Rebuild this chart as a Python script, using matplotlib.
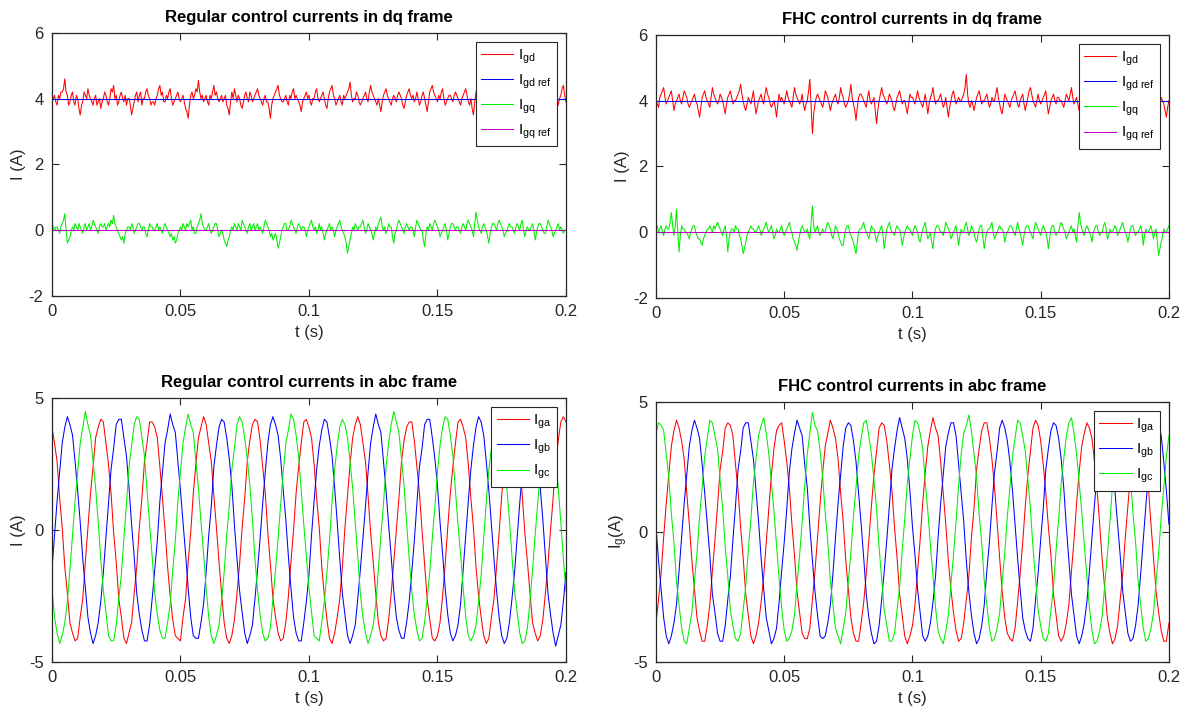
import matplotlib
matplotlib.use('agg')
import matplotlib.pyplot as plt
import numpy as np

# ---- dq frame, regular control (0.5 ms samples) ----
reg_igd = [
    3.9, 4.0, 4.1, 3.9, 3.8, 4.1, 4.0, 4.2, 4.2, 4.3, 4.6, 4.2, 4.1, 3.8, 3.9, 4.1, 4.2, 3.9, 3.8, 4.1,
    4.0, 3.7, 3.5, 3.8, 3.9, 4.2, 4.1, 4.0, 4.3, 4.1, 4.0, 3.9, 3.8, 4.0, 4.1, 3.8, 3.9, 4.0, 3.7, 3.9,
    4.0, 4.2, 4.1, 3.9, 3.8, 4.0, 4.3, 4.2, 4.4, 4.0, 4.1, 3.8, 3.9, 4.1, 4.2, 4.0, 3.9, 4.1, 3.8, 4.0,
    4.0, 3.8, 3.5, 3.7, 3.9, 4.1, 4.2, 3.9, 4.1, 4.2, 3.8, 4.0, 4.0, 4.2, 4.3, 4.1, 4.0, 3.8, 3.9, 3.9,
    3.8, 4.0, 4.1, 4.3, 4.4, 4.1, 4.2, 3.9, 3.9, 4.1, 4.0, 4.2, 4.3, 4.0, 3.8, 3.9, 4.0, 4.1, 4.2, 4.0,
    3.9, 4.0, 4.1, 3.9, 3.7, 3.6, 3.4, 3.8, 4.1, 4.2, 4.0, 4.1, 4.3, 4.2, 4.55, 4.2, 4.0, 4.1, 3.9, 4.0,
    4.1, 3.9, 3.8, 4.1, 4.0, 4.2, 4.4, 4.1, 4.2, 4.0, 3.9, 4.0, 4.1, 3.9, 4.0, 4.1, 3.8, 3.7, 3.5, 3.9,
    4.2, 4.0, 4.3, 4.1, 3.9, 4.1, 4.0, 3.8, 3.7, 3.9, 4.1, 4.2, 4.0, 3.9, 4.2, 4.1, 3.9, 4.0, 4.1, 4.2,
    4.3, 4.1, 4.0, 3.9, 3.8, 4.0, 4.1, 3.9, 3.9, 3.7, 3.4, 3.8, 4.0, 4.1, 4.2, 4.3, 4.4, 4.1, 4.0, 3.9,
    3.9, 4.0, 4.1, 3.9, 3.8, 4.1, 4.0, 4.2, 4.3, 4.0, 4.1, 4.0, 3.9, 3.8, 3.6, 3.9, 4.0, 4.1, 4.2, 4.0,
    4.1, 3.9, 3.8, 4.0, 4.0, 4.2, 4.3, 4.0, 3.9, 4.0, 4.1, 4.2, 4.0, 3.8, 3.7, 4.0, 4.2, 4.3, 4.4, 4.1,
    4.0, 3.8, 3.9, 4.0, 4.1, 3.9, 3.8, 4.1, 4.0, 4.1, 4.2, 4.3, 4.5, 4.1, 3.9, 4.0, 4.0, 4.2, 4.1, 3.9,
    3.8, 3.9, 4.0, 4.1, 4.2, 4.0, 3.9, 4.2, 4.4, 4.2, 4.1, 4.0, 3.9, 3.8, 4.0, 3.8, 3.6, 3.9, 4.1, 4.2,
    4.3, 4.1, 4.0, 3.9, 3.8, 4.0, 4.1, 4.0, 3.9, 4.1, 4.2, 4.1, 4.0, 3.8, 3.7, 3.9, 4.1, 4.2, 4.3, 4.1,
    4.0, 4.1, 3.9, 4.0, 4.2, 4.0, 3.8, 3.9, 4.1, 4.2, 4.0, 3.8, 3.6, 3.9, 4.2, 4.3, 4.4, 4.2, 4.1, 4.0,
    3.9, 4.1, 4.0, 4.2, 4.3, 4.0, 3.8, 3.9, 4.0, 4.1, 4.1, 4.0, 3.9, 4.1, 4.2, 4.1, 4.0, 3.9, 3.8, 4.0,
    4.1, 4.2, 4.3, 4.1, 3.9, 3.8, 4.0, 3.7, 3.5, 3.9, 4.2, 4.1, 4.0, 4.2, 4.5, 4.2, 4.1, 4.0, 3.9, 4.1,
    4.0, 4.1, 4.2, 4.0, 3.8, 3.9, 4.1, 4.2, 4.0, 3.9, 3.9, 4.1, 4.3, 4.1, 4.0, 3.9, 3.8, 4.0, 4.1, 4.2,
    4.2, 4.0, 3.9, 4.1, 4.0, 4.2, 4.4, 4.2, 4.1, 3.9, 3.8, 3.9, 4.0, 4.1, 4.2, 4.0, 3.9, 4.0, 4.1, 3.9,
    3.7, 3.9, 4.0, 4.2, 4.3, 4.2, 4.1, 4.0, 3.9, 4.1, 4.0, 4.1, 4.2, 4.0, 3.8, 4.0, 4.1, 4.3, 4.4, 4.1, 3.9]
reg_igq = [
    0.2, 0.1, 0.0, 0.1, 0.1, 0.0, -0.1, 0.1, 0.2, 0.3, 0.5, 0.0, -0.4, -0.3, -0.2, 0.0, 0.1, 0.0, 0.2, 0.1,
    0.0, 0.2, 0.1, 0.0, -0.1, 0.1, 0.2, 0.0, 0.1, 0.2, 0.0, 0.1, 0.3, 0.2, 0.1, 0.0, -0.1, 0.1, 0.2, 0.1,
    0.1, 0.2, 0.0, 0.1, 0.2, 0.1, 0.3, 0.2, 0.45, 0.2, 0.1, 0.0, -0.1, -0.2, -0.3, -0.2, -0.4, -0.1, 0.0, 0.1,
    0.1, 0.0, 0.2, 0.1, -0.1, 0.0, 0.1, 0.2, 0.2, 0.1, 0.0, 0.1, 0.1, -0.1, -0.2, 0.0, 0.2, 0.1, 0.1, 0.0,
    0.0, 0.1, 0.2, 0.0, 0.1, 0.0, -0.1, 0.1, 0.2, 0.1, 0.0, -0.1, -0.2, -0.1, -0.3, -0.2, -0.4, -0.3, -0.1, 0.0,
    0.1, 0.0, 0.2, 0.1, 0.0, 0.2, 0.1, 0.2, 0.3, 0.0, 0.1, -0.1, -0.1, 0.1, 0.2, 0.3, 0.5, 0.2, 0.1, 0.0,
    0.0, 0.1, 0.2, 0.0, -0.1, 0.0, 0.1, 0.2, 0.2, 0.0, -0.2, -0.1, 0.0, -0.1, -0.3, -0.4, -0.5, -0.3, -0.2, 0.0,
    0.1, 0.0, 0.2, 0.1, 0.0, 0.2, 0.1, 0.0, 0.3, 0.2, 0.1, 0.0, -0.1, 0.1, 0.2, 0.0, 0.1, 0.2, 0.0, 0.1,
    0.2, 0.0, 0.1, 0.0, -0.1, 0.1, 0.3, 0.2, 0.1, 0.0, -0.2, -0.1, -0.3, -0.2, -0.1, -0.3, -0.55, -0.4, -0.2, 0.0,
    0.1, 0.2, 0.2, 0.0, 0.0, 0.1, 0.3, 0.2, 0.1, 0.0, -0.1, 0.1, 0.2, 0.1, 0.0, 0.1, 0.1, 0.0, -0.2, 0.0,
    0.1, 0.2, 0.3, 0.1, 0.0, 0.1, -0.1, 0.0, 0.2, 0.0, 0.1, -0.1, -0.3, -0.1, 0.0, 0.1, 0.2, 0.0, 0.1, 0.0,
    -0.2, 0.0, 0.1, 0.2, 0.3, 0.1, 0.0, -0.1, -0.2, -0.4, -0.7, -0.5, -0.3, -0.1, 0.1, 0.0, 0.2, 0.1, 0.0, 0.1,
    0.1, 0.2, 0.3, 0.1, -0.1, 0.0, 0.2, 0.1, 0.0, -0.1, -0.3, -0.1, 0.1, 0.0, 0.2, 0.3, 0.4, 0.1, 0.0, 0.1,
    -0.1, 0.0, 0.2, 0.1, 0.1, -0.2, -0.4, -0.1, 0.0, 0.2, 0.3, 0.2, 0.1, 0.0, -0.1, 0.1, 0.2, 0.1, 0.0, 0.1,
    0.1, 0.0, -0.2, 0.1, 0.3, 0.2, 0.1, 0.0, 0.0, -0.3, -0.5, -0.1, 0.1, 0.0, 0.2, 0.1, 0.0, 0.2, 0.3, 0.2,
    0.1, 0.0, -0.2, -0.1, 0.0, 0.1, 0.2, 0.0, -0.3, -0.1, 0.1, 0.2, 0.2, 0.1, 0.0, 0.1, 0.1, 0.0, -0.1, 0.1,
    0.2, 0.1, 0.0, 0.2, 0.3, 0.2, 0.1, 0.0, -0.2, 0.2, 0.55, 0.3, 0.1, 0.0, -0.1, 0.1, 0.2, 0.1, 0.0, -0.2,
    -0.4, -0.1, 0.1, 0.2, 0.2, 0.1, 0.0, 0.2, 0.3, 0.2, 0.1, 0.0, -0.2, -0.1, 0.0, 0.1, 0.2, 0.1, 0.1, 0.0,
    -0.1, 0.1, 0.2, 0.1, 0.0, 0.2, 0.3, 0.0, -0.2, 0.0, 0.1, 0.0, 0.0, 0.1, 0.2, 0.0, -0.3, -0.1, 0.1, 0.2,
    0.2, 0.1, 0.0, -0.1, -0.1, 0.1, 0.3, 0.2, 0.1, 0.0, -0.2, -0.1, 0.0, 0.1, 0.2, 0.0, 0.1, 0.0, -0.1, 0.0, 0.0]

# ---- dq frame, FHC control (0.5 ms samples) ----
fhc_igd = [
    4.0, 3.9, 3.8, 4.1, 4.2, 4.3, 4.4, 4.1, 3.9, 4.0, 4.1, 4.2, 4.3, 4.0, 3.7, 3.9, 4.0, 4.1, 4.2, 4.0,
    3.9, 4.1, 4.3, 4.2, 4.1, 3.9, 3.8, 3.9, 4.0, 4.1, 4.2, 4.0, 3.9, 3.7, 3.5, 3.8, 4.1, 4.2, 4.3, 4.1,
    4.0, 3.9, 3.8, 4.1, 4.4, 4.2, 4.1, 4.0, 3.9, 4.0, 4.2, 4.1, 4.0, 3.8, 3.6, 3.9, 4.1, 4.2, 4.3, 4.1,
    3.9, 4.0, 4.0, 4.1, 4.2, 4.3, 4.5, 4.2, 4.0, 3.8, 3.7, 3.9, 4.1, 4.0, 3.9, 4.1, 4.3, 3.9, 3.6, 3.8,
    4.0, 4.1, 4.2, 4.0, 3.9, 4.2, 4.4, 4.2, 4.1, 3.9, 3.8, 3.9, 4.0, 3.8, 3.5, 3.9, 4.2, 4.0, 4.1, 4.0,
    3.9, 4.1, 4.3, 4.1, 4.0, 3.9, 3.8, 4.1, 4.4, 4.2, 4.1, 4.0, 3.9, 4.0, 4.2, 3.9, 3.7, 3.9, 4.0, 4.3,
    4.65, 3.8, 3.0, 3.6, 3.9, 4.1, 4.2, 4.1, 4.0, 3.9, 3.8, 4.0, 4.3, 4.2, 4.1, 3.9, 3.7, 3.9, 4.0, 4.1,
    4.2, 4.0, 3.9, 4.1, 4.4, 4.2, 4.1, 3.9, 3.8, 3.9, 4.0, 4.2, 4.5, 4.1, 3.9, 3.7, 3.4, 3.8, 4.1, 4.2,
    4.2, 4.1, 4.0, 3.9, 3.8, 4.1, 4.3, 4.0, 3.9, 4.0, 4.1, 3.7, 3.3, 3.7, 4.0, 4.2, 4.4, 4.2, 4.1, 4.0,
    3.9, 4.0, 4.2, 4.1, 4.0, 3.8, 3.7, 3.9, 4.1, 4.2, 4.3, 4.1, 3.9, 4.0, 4.0, 3.8, 3.6, 3.9, 4.2, 4.1,
    4.1, 4.0, 3.9, 4.1, 4.3, 4.1, 4.0, 3.9, 3.8, 4.0, 4.2, 3.9, 3.6, 3.9, 4.1, 4.2, 4.4, 4.1, 3.9, 4.0,
    4.0, 4.1, 4.2, 4.0, 3.8, 3.9, 4.1, 3.8, 3.5, 3.8, 4.0, 4.2, 4.3, 4.1, 3.9, 4.0, 4.1, 4.0, 4.0, 4.1,
    4.2, 4.4, 4.8, 4.2, 3.9, 3.8, 4.0, 3.9, 3.7, 3.9, 4.1, 4.2, 4.3, 4.1, 3.9, 4.0, 4.0, 4.1, 4.2, 4.0,
    3.8, 3.9, 4.1, 4.0, 4.0, 4.2, 4.4, 4.1, 3.9, 3.7, 3.6, 3.9, 4.2, 4.1, 4.0, 3.9, 3.8, 4.0, 4.1, 4.2,
    4.3, 4.1, 3.9, 3.8, 4.0, 4.1, 4.2, 3.9, 3.7, 3.9, 4.1, 4.3, 4.4, 4.2, 4.0, 3.9, 3.8, 4.0, 4.2, 4.0,
    3.9, 4.0, 4.1, 4.2, 4.3, 3.9, 3.6, 3.8, 4.0, 4.1, 4.2, 4.0, 3.9, 4.1, 4.1, 4.0, 4.0, 3.9, 3.8, 4.0,
    4.2, 4.1, 4.0, 4.2, 4.4, 4.1, 3.9, 4.0, 4.1, 3.9, 3.7, 3.9, 4.0, 4.2, 4.3, 4.2, 4.1, 4.0, 3.9, 4.1,
    4.2, 4.1, 4.0, 3.9, 3.8, 4.0, 4.1, 4.2, 4.3, 4.1, 3.9, 4.0, 4.0, 3.8, 3.7, 4.0, 4.2, 4.1, 4.1, 4.0,
    3.9, 4.1, 4.0, 4.2, 4.3, 4.2, 4.1, 3.9, 3.8, 3.9, 4.0, 4.1, 4.2, 4.0, 3.9, 4.0, 4.1, 3.8, 3.6, 3.9,
    4.0, 4.2, 4.3, 4.2, 4.1, 4.0, 3.9, 4.1, 4.0, 4.1, 4.2, 4.0, 3.8, 3.9, 4.1, 4.0, 3.9, 3.7, 3.5, 3.8, 4.0]
fhc_igq = [
    0.1, 0.2, 0.0, 0.1, 0.2, 0.0, -0.1, 0.1, 0.2, 0.1, 0.1, 0.3, 0.6, 0.2, -0.1, 0.2, 0.7, 0.0, -0.6, -0.1,
    0.2, 0.1, 0.1, 0.0, 0.0, -0.1, -0.2, 0.0, 0.1, 0.2, 0.2, 0.0, -0.1, -0.2, -0.2, -0.3, -0.4, -0.2, -0.1, 0.0,
    0.1, 0.1, 0.2, 0.1, 0.0, 0.2, 0.1, 0.2, 0.3, 0.2, 0.1, 0.0, -0.1, 0.1, 0.2, -0.1, -0.6, -0.2, 0.0, 0.1,
    0.1, 0.0, 0.2, 0.1, 0.1, -0.1, -0.2, -0.4, -0.65, -0.5, -0.3, -0.1, 0.0, 0.1, 0.2, 0.1, 0.1, 0.0, 0.0, 0.1,
    0.2, 0.1, -0.1, 0.0, 0.1, 0.2, 0.3, 0.1, 0.0, 0.1, 0.2, 0.0, -0.2, -0.1, 0.1, 0.0, 0.0, 0.1, 0.2, 0.0,
    -0.1, 0.0, 0.1, 0.2, 0.3, 0.1, 0.0, -0.2, -0.3, -0.4, -0.55, -0.3, -0.1, 0.1, 0.2, 0.1, 0.0, 0.0, 0.1, -0.1,
    -0.2, 0.3, 0.8, 0.2, 0.0, 0.1, 0.2, 0.0, -0.1, 0.0, 0.1, 0.0, 0.0, 0.2, 0.3, 0.2, 0.1, -0.1, -0.2, 0.0,
    0.2, 0.1, 0.0, -0.2, -0.3, -0.4, -0.4, -0.1, 0.1, 0.2, 0.2, 0.0, -0.1, -0.2, -0.3, -0.5, -0.65, -0.3, 0.0, 0.1,
    0.1, 0.2, 0.3, 0.1, 0.0, -0.1, -0.2, 0.0, 0.2, 0.1, 0.1, -0.1, -0.3, -0.1, 0.0, 0.1, 0.2, -0.1, -0.5, -0.2,
    0.1, 0.2, 0.3, 0.1, 0.0, 0.0, -0.1, 0.1, 0.2, 0.1, 0.1, -0.1, -0.4, -0.2, 0.0, 0.1, 0.2, 0.1, 0.1, 0.0,
    -0.1, 0.1, 0.2, 0.1, 0.0, -0.2, -0.3, -0.1, 0.1, 0.2, 0.3, 0.0, -0.2, -0.1, 0.0, -0.3, -0.5, -0.1, 0.1, 0.2,
    0.2, 0.1, 0.0, 0.0, -0.1, 0.1, 0.3, 0.2, 0.1, 0.0, -0.2, -0.1, 0.0, 0.1, 0.2, -0.1, -0.4, -0.1, 0.1, 0.0,
    0.0, 0.2, 0.3, 0.1, -0.1, 0.0, 0.2, 0.1, 0.0, -0.2, -0.3, -0.1, 0.1, 0.2, 0.2, -0.2, -0.5, -0.2, 0.0, 0.1,
    0.1, 0.2, 0.3, 0.0, -0.2, -0.1, 0.0, 0.1, 0.2, 0.1, 0.1, 0.0, -0.3, -0.1, 0.0, 0.1, 0.2, 0.2, 0.1, 0.0,
    -0.1, 0.1, 0.3, 0.1, 0.0, -0.2, -0.4, -0.1, 0.1, 0.2, 0.2, 0.1, 0.0, -0.1, -0.2, 0.1, 0.3, 0.2, 0.1, 0.0,
    -0.1, 0.1, 0.2, 0.1, 0.0, -0.2, -0.5, -0.2, 0.1, 0.2, 0.2, 0.0, -0.1, 0.0, 0.0, 0.2, 0.3, 0.2, 0.1, 0.0,
    -0.2, -0.1, 0.0, 0.1, 0.2, 0.0, 0.1, -0.1, -0.3, 0.2, 0.6, 0.3, 0.1, 0.0, -0.1, 0.1, 0.2, 0.1, 0.0, -0.1,
    -0.3, 0.0, 0.1, 0.2, 0.2, 0.0, -0.1, 0.0, 0.0, 0.2, 0.3, 0.1, -0.2, -0.1, 0.1, 0.0, 0.0, 0.1, 0.2, 0.1,
    -0.1, 0.0, 0.1, 0.2, 0.3, 0.1, 0.0, -0.1, -0.3, -0.1, 0.1, 0.2, 0.2, 0.0, -0.1, 0.0, 0.0, 0.1, 0.2, 0.0,
    -0.4, -0.1, 0.1, 0.0, 0.0, 0.1, 0.2, 0.0, -0.2, 0.0, 0.1, -0.3, -0.7, -0.5, -0.3, -0.1, 0.1, 0.0, 0.0, 0.1, 0.2]
igd_ref = 4.0
igq_ref = 0.0

# ---- abc frame, regular control (1 ms samples) ----
reg_iga = [
    3.9, 3.3, 2.6, 1.2, 0.1, -1.4, -2.4, -3.5, -3.9, -4.2, -4.1, -3.3, -2.6, -1.2, 0.1, 1.4, 2.4, 3.5, 3.9, 4.2,
    4.1, 3.3, 2.5, 1.4, -0.1, -1.2, -2.6, -3.3, -4.1, -4.3, -3.9, -3.5, -2.4, -1.4, 0.1, 1.2, 2.6, 3.3, 4.1, 4.1,
    3.9, 3.5, 2.4, 1.2, 0.0, -1.4, -2.5, -3.4, -4.0, -4.1, -4.2, -3.3, -2.6, -1.2, -0.1, 1.4, 2.5, 3.5, 3.9, 4.3,
    4.0, 3.3, 2.6, 1.3, 0.1, -1.2, -2.4, -3.5, -4.1, -4.3, -4.0, -3.4, -2.4, -1.3, 0.1, 1.2, 2.6, 3.4, 4.0, 4.2,
    4.1, 3.4, 2.4, 1.4, -0.1, -1.3, -2.6, -3.3, -3.9, -4.2, -4.1, -3.5, -2.5, -1.2, 0.0, 1.4, 2.4, 3.3, 4.1, 4.2,
    3.9, 3.5, 2.5, 1.2, 0.1, -1.4, -2.5, -3.4, -4.1, -4.3, -3.9, -3.3, -2.6, -1.4, 0.1, 1.3, 2.5, 3.5, 4.0, 4.3,
    4.0, 3.3, 2.6, 1.3, -0.1, -1.2, -2.4, -3.5, -4.0, -4.2, -4.1, -3.4, -2.4, -1.2, 0.0, 1.2, 2.6, 3.4, 3.9, 4.1,
    4.1, 3.4, 2.4, 1.4, 0.0, -1.3, -2.6, -3.4, -4.1, -4.2, -4.0, -3.5, -2.5, -1.3, 0.1, 1.4, 2.4, 3.3, 4.1, 4.2,
    3.9, 3.5, 2.5, 1.2, 0.1, -1.4, -2.5, -3.3, -4.0, -4.3, -4.1, -3.3, -2.6, -1.4, -0.1, 1.3, 2.5, 3.5, 4.0, 4.1,
    4.0, 3.3, 2.6, 1.3, -0.1, -1.2, -2.4, -3.5, -3.9, -4.2, -4.0, -3.4, -2.4, -1.3, 0.0, 1.2, 2.6, 3.4, 4.1, 4.3,
    4.1]
reg_igb = [
    -1.5, -0.2, 1.1, 2.2, 3.3, 3.9, 4.3, 4.0, 3.6, 2.6, 1.5, 0.3, -1.1, -2.2, -3.3, -3.9, -4.3, -4.0, -3.5, -2.7,
    -1.6, -0.3, 1.0, 2.3, 3.1, 4.0, 4.2, 4.2, 3.5, 2.8, 1.6, 0.2, -1.0, -2.4, -3.2, -3.8, -4.2, -4.2, -3.6, -2.6,
    -1.5, -0.4, 1.1, 2.2, 3.3, 3.8, 4.4, 4.0, 3.7, 2.6, 1.5, 0.3, -0.9, -2.2, -3.3, -4.0, -4.1, -4.1, -3.5, -2.8,
    -1.6, -0.2, 0.9, 2.4, 3.2, 3.9, 4.2, 4.1, 3.5, 2.7, 1.7, 0.2, -1.1, -2.3, -3.1, -3.9, -4.3, -4.0, -3.6, -2.6,
    -1.5, -0.3, 1.0, 2.2, 3.3, 4.0, 4.3, 4.0, 3.6, 2.7, 1.5, 0.4, -1.0, -2.2, -3.3, -3.9, -4.2, -4.2, -3.5, -2.7,
    -1.7, -0.2, 1.1, 2.3, 3.2, 3.8, 4.2, 4.1, 3.5, 2.8, 1.6, 0.3, -1.1, -2.4, -3.2, -4.0, -4.3, -4.0, -3.6, -2.6,
    -1.5, -0.3, 0.9, 2.2, 3.3, 3.9, 4.4, 4.0, 3.7, 2.6, 1.5, 0.2, -1.0, -2.3, -3.3, -3.8, -4.1, -4.1, -3.5, -2.7,
    -1.6, -0.4, 1.0, 2.4, 3.1, 4.0, 4.2, 4.2, 3.5, 2.7, 1.7, 0.3, -0.9, -2.2, -3.2, -3.9, -4.2, -4.0, -3.6, -2.8,
    -1.5, -0.2, 1.1, 2.3, 3.2, 3.9, 4.3, 4.1, 3.6, 2.6, 1.5, 0.2, -1.1, -2.3, -3.3, -4.0, -4.3, -4.1, -3.5, -2.6,
    -1.6, -0.3, 1.0, 2.2, 3.3, 3.8, 4.2, 4.0, 3.5, 2.7, 1.6, 0.4, -1.0, -2.4, -3.2, -3.9, -4.4, -4.0, -3.6, -2.7,
    -1.6]
reg_igc = [
    -2.2, -3.3, -3.9, -4.3, -4.0, -3.5, -2.7, -1.5, -0.2, 1.1, 2.2, 3.3, 3.9, 4.5, 4.0, 3.6, 2.6, 1.6, 0.3, -1.1,
    -2.3, -3.1, -4.0, -4.2, -4.2, -3.6, -2.6, -1.7, -0.3, 1.0, 2.4, 3.2, 4.0, 4.3, 4.2, 3.5, 2.8, 1.5, 0.2, -1.0,
    -2.4, -3.2, -3.8, -4.1, -4.1, -3.5, -2.8, -1.5, -0.4, 1.1, 2.2, 3.3, 3.9, 4.4, 4.0, 3.7, 2.6, 1.6, 0.3, -0.9,
    -2.2, -3.3, -4.0, -4.3, -4.0, -3.6, -2.7, -1.6, -0.2, 0.9, 2.3, 3.1, 4.0, 4.3, 4.1, 3.5, 2.7, 1.7, 0.4, -1.1,
    -2.3, -3.2, -3.9, -4.2, -4.1, -3.7, -2.6, -1.5, -0.3, 1.0, 2.2, 3.3, 3.8, 4.4, 4.2, 3.6, 2.8, 1.5, 0.2, -1.0,
    -2.2, -3.1, -4.0, -4.1, -4.2, -3.5, -2.7, -1.6, -0.4, 1.1, 2.3, 3.2, 3.9, 4.2, 4.0, 3.5, 2.6, 1.6, 0.3, -1.0,
    -2.4, -3.3, -3.9, -4.3, -4.0, -3.6, -2.8, -1.5, -0.2, 1.0, 2.4, 3.3, 4.0, 4.5, 4.1, 3.7, 2.7, 1.7, 0.3, -1.1,
    -2.3, -3.2, -3.8, -4.2, -4.1, -3.5, -2.6, -1.6, -0.3, 0.9, 2.2, 3.2, 3.9, 4.3, 4.2, 3.6, 2.8, 1.5, 0.2, -0.9,
    -2.2, -3.3, -4.0, -4.2, -4.0, -3.6, -2.7, -1.7, -0.3, 1.1, 2.3, 3.1, 4.0, 4.4, 4.0, 3.5, 2.6, 1.6, 0.4, -1.0,
    -2.3, -3.1, -3.9, -4.3, -4.2, -3.7, -2.7, -1.5, -0.2, 1.0, 2.2, 3.3, 3.8, 4.2, 4.1, 3.6, 2.7, 1.6, 0.3, -1.1,
    -2.3]

# ---- abc frame, FHC control (1 ms samples) ----
fhc_iga = [
    -3.5, -2.6, -1.6, -0.2, 1.1, 2.2, 3.3, 3.9, 4.3, 4.0, 3.5, 2.8, 1.5, 0.3, -1.1, -2.2, -3.3, -3.8, -4.2, -4.2,
    -3.6, -2.8, -1.5, -0.3, 1.0, 2.4, 3.1, 4.0, 4.2, 4.1, 3.7, 2.6, 1.6, 0.2, -1.0, -2.4, -3.2, -4.0, -4.3, -4.0,
    -3.5, -2.7, -1.7, -0.4, 0.9, 2.2, 3.2, 3.9, 4.1, 4.2, 3.5, 2.7, 1.7, 0.3, -0.9, -2.3, -3.1, -3.9, -4.1, -4.1,
    -3.7, -2.6, -1.5, -0.2, 1.1, 2.3, 3.3, 3.8, 4.3, 4.0, 3.6, 2.8, 1.5, 0.4, -1.1, -2.2, -3.3, -3.9, -4.2, -4.2,
    -3.5, -2.7, -1.6, -0.3, 1.0, 2.2, 3.1, 4.0, 4.2, 4.1, 3.5, 2.6, 1.6, 0.2, -1.0, -2.4, -3.2, -4.0, -4.3, -4.0,
    -3.6, -2.8, -1.5, -0.3, 1.1, 2.3, 3.3, 3.9, 4.4, 4.0, 3.7, 2.7, 1.5, 0.3, -1.1, -2.2, -3.1, -3.8, -4.2, -4.1,
    -3.5, -2.6, -1.7, -0.2, 0.9, 2.4, 3.2, 3.9, 4.2, 4.2, 3.6, 2.8, 1.7, 0.4, -1.0, -2.3, -3.3, -3.9, -4.1, -4.2,
    -3.7, -2.7, -1.6, -0.4, 1.0, 2.2, 3.1, 4.0, 4.3, 4.1, 3.5, 2.6, 1.5, 0.2, -0.9, -2.4, -3.2, -4.0, -4.2, -4.0,
    -3.5, -2.8, -1.5, -0.3, 1.1, 2.3, 3.3, 3.8, 4.2, 4.0, 3.6, 2.7, 1.6, 0.3, -1.1, -2.2, -3.3, -3.9, -4.3, -4.1,
    -3.6, -2.6, -1.6, -0.2, 1.0, 2.2, 3.2, 3.9, 4.3, 4.2, 3.5, 2.8, 1.7, 0.3, -1.0, -2.3, -3.1, -3.8, -4.2, -4.2,
    -3.5]
fhc_igb = [
    0.2, -1.1, -2.2, -3.3, -4.0, -4.3, -4.0, -3.5, -2.8, -1.5, -0.2, 1.1, 2.2, 3.3, 3.9, 4.3, 4.0, 3.6, 2.6, 1.5,
    0.3, -0.9, -2.4, -3.1, -3.9, -4.2, -4.2, -3.6, -2.6, -1.7, -0.3, 1.0, 2.4, 3.1, 4.0, 4.2, 4.2, 3.5, 2.8, 1.6,
    0.4, -1.0, -2.2, -3.3, -3.8, -4.3, -4.1, -3.7, -2.7, -1.5, -0.4, 0.9, 2.3, 3.2, 3.8, 4.3, 4.0, 3.7, 2.6, 1.7,
    0.2, -1.1, -2.3, -3.2, -4.0, -4.1, -4.0, -3.5, -2.8, -1.6, -0.2, 1.1, 2.2, 3.3, 4.0, 4.2, 4.1, 3.5, 2.7, 1.5,
    0.3, -1.0, -2.4, -3.3, -3.9, -4.3, -4.2, -3.6, -2.6, -1.5, -0.3, 1.0, 2.4, 3.2, 3.9, 4.4, 4.0, 3.6, 2.8, 1.6,
    0.2, -0.9, -2.2, -3.1, -4.0, -4.2, -4.0, -3.5, -2.7, -1.7, -0.2, 1.1, 2.2, 3.3, 3.8, 4.2, 4.2, 3.7, 2.6, 1.5,
    0.4, -1.1, -2.3, -3.2, -3.9, -4.3, -4.1, -3.6, -2.8, -1.5, -0.4, 1.0, 2.3, 3.1, 4.0, 4.3, 4.0, 3.5, 2.7, 1.6,
    0.3, -1.0, -2.2, -3.3, -3.8, -4.1, -4.2, -3.7, -2.6, -1.6, -0.3, 0.9, 2.4, 3.2, 3.9, 4.2, 4.1, 3.6, 2.8, 1.7,
    0.2, -1.1, -2.4, -3.2, -4.0, -4.3, -4.0, -3.5, -2.7, -1.5, -0.2, 1.1, 2.2, 3.3, 3.8, 4.3, 4.0, 3.5, 2.6, 1.5,
    0.3, -0.9, -2.3, -3.1, -3.9, -4.2, -4.1, -3.6, -2.8, -1.6, -0.3, 1.0, 2.3, 3.2, 4.0, 4.2, 4.2, 3.7, 2.7, 1.6,
    0.3]
fhc_igc = [
    3.8, 4.2, 4.1, 3.9, 3.0, 2.1, 0.7, -0.4, -1.9, -2.8, -3.7, -4.2, -4.3, -3.7, -3.1, -1.9, -0.8, 0.6, 1.7, 2.9,
    3.6, 4.3, 4.2, 3.7, 3.2, 2.0, 0.9, -0.6, -1.7, -3.0, -3.6, -4.1, -4.2, -3.9, -3.0, -2.1, -0.7, 0.5, 1.9, 2.8,
    3.7, 4.1, 4.4, 3.8, 3.0, 1.9, 0.8, -0.5, -1.8, -2.9, -3.8, -4.2, -4.1, -3.8, -3.2, -2.0, -0.9, 0.4, 1.8, 3.0,
    3.8, 4.6, 4.1, 3.9, 3.1, 2.1, 0.7, -0.4, -1.9, -2.8, -3.7, -4.0, -4.3, -3.7, -3.1, -1.9, -0.8, 0.6, 1.7, 2.9,
    3.6, 4.2, 4.3, 3.7, 3.0, 2.0, 0.9, -0.6, -1.8, -3.0, -3.6, -4.2, -4.2, -3.9, -3.0, -2.1, -0.7, 0.5, 1.9, 2.8,
    3.7, 4.3, 4.2, 3.8, 3.2, 1.9, 0.8, -0.5, -1.7, -2.9, -3.8, -4.1, -4.3, -3.8, -3.2, -2.0, -0.9, 0.4, 1.8, 3.0,
    3.8, 4.1, 4.5, 3.9, 3.0, 2.1, 0.7, -0.4, -1.9, -2.8, -3.7, -4.2, -4.1, -3.7, -3.1, -1.9, -0.8, 0.6, 1.7, 2.9,
    3.6, 4.3, 4.2, 3.7, 3.1, 2.0, 0.9, -0.6, -1.8, -3.0, -3.6, -4.1, -4.2, -3.9, -3.0, -2.1, -0.7, 0.5, 1.9, 2.8,
    3.7, 4.2, 4.4, 3.8, 3.0, 1.9, 0.8, -0.5, -1.7, -2.9, -3.8, -4.3, -4.2, -3.8, -3.2, -2.0, -0.9, 0.4, 1.8, 3.0,
    3.8, 4.1, 4.3, 3.9, 3.1, 2.1, 0.7, -0.4, -1.9, -2.8, -3.7, -4.2, -4.1, -3.7, -3.1, -1.9, -0.8, 0.6, 1.7, 2.9,
    3.7]

x_ticks = [0, 0.05, 0.1, 0.15, 0.2]
x_ticklabels = ['0', '0.05', '0.1', '0.15', '0.2']
dq_yticks = [-2, 0, 2, 4, 6]
abc_yticks = [-5, 0, 5]

dq_labels = [r'I$_{\mathrm{gd}}$', r'I$_{\mathrm{gd\ ref}}$', r'I$_{\mathrm{gq}}$', r'I$_{\mathrm{gq\ ref}}$']
abc_labels = [r'I$_{\mathrm{ga}}$', r'I$_{\mathrm{gb}}$', r'I$_{\mathrm{gc}}$']

plt.rcParams['font.family'] = ['Liberation Sans', 'DejaVu Sans']
plt.rcParams['mathtext.fontset'] = 'custom'
plt.rcParams['mathtext.rm'] = 'Liberation Sans'
plt.rcParams['mathtext.it'] = 'Liberation Sans:italic'
plt.rcParams['axes.unicode_minus'] = False

AX_COLOR = '#262626'
GREEN = '#00ee00'
LW = 0.75


def tgrid(values):
    # samples are evenly spread over 0 .. 0.2 s
    return np.linspace(0, 0.2, len(values))


def style_axes(ax, title, ylabel, yticks, ylim):
    # MATLAB-like boxed axes with inward ticks
    ax.set_xlim(0, 0.2)
    ax.set_ylim(*ylim)
    ax.set_xticks(x_ticks)
    ax.set_xticklabels(x_ticklabels)
    ax.set_yticks(yticks)
    ax.tick_params(direction='in', top=True, right=True, length=5, width=0.8,
                   labelsize=12, colors=AX_COLOR, pad=6)
    for s in ax.spines.values():
        s.set_color(AX_COLOR)
        s.set_linewidth(0.9)
    ax.set_title(title, fontsize=12, fontweight='bold', pad=8)
    ax.set_xlabel('t (s)', fontsize=12, color=AX_COLOR, labelpad=4)
    ax.set_ylabel(ylabel, fontsize=12, color=AX_COLOR, labelpad=2)


def add_legend(ax, spacing):
    leg = ax.legend(loc='upper right', fontsize=11, handlelength=2.1, handletextpad=0.3,
                    labelspacing=spacing, borderpad=0.35, borderaxespad=0.6,
                    fancybox=False, framealpha=1)
    leg.get_frame().set_edgecolor(AX_COLOR)
    leg.get_frame().set_linewidth(0.8)


def plot_dq(ax, igd, igq):
    ax.plot(tgrid(igd), igd, color='r', lw=LW, label=dq_labels[0])
    ax.plot(tgrid(igd), np.full(len(igd), igd_ref), color='b', lw=LW, label=dq_labels[1])
    ax.plot(tgrid(igq), igq, color=GREEN, lw=LW, label=dq_labels[2])
    ax.plot(tgrid(igq), np.full(len(igq), igq_ref), color='m', lw=LW, label=dq_labels[3])


def plot_abc(ax, iga, igb, igc):
    ax.plot(tgrid(iga), iga, color='r', lw=LW, label=abc_labels[0])
    ax.plot(tgrid(igb), igb, color='b', lw=LW, label=abc_labels[1])
    ax.plot(tgrid(igc), igc, color=GREEN, lw=LW, label=abc_labels[2])


fig = plt.figure(figsize=(11.86, 7.13), dpi=100)

ax1 = fig.add_axes([0.0438, 0.585, 0.4334, 0.369])
plot_dq(ax1, reg_igd, reg_igq)
style_axes(ax1, 'Regular control currents in dq frame', 'I (A)', dq_yticks, (-2, 6))
add_legend(ax1, 0.45)

ax2 = fig.add_axes([0.5531, 0.582, 0.4325, 0.369])
plot_dq(ax2, fhc_igd, fhc_igq)
style_axes(ax2, 'FHC control currents in dq frame', 'I (A)', dq_yticks, (-2, 6))
add_legend(ax2, 0.45)

ax3 = fig.add_axes([0.0438, 0.0715, 0.4334, 0.370])
plot_abc(ax3, reg_iga, reg_igb, reg_igc)
style_axes(ax3, 'Regular control currents in abc frame', 'I (A)', abc_yticks, (-5, 5))
add_legend(ax3, 0.45)

ax4 = fig.add_axes([0.5531, 0.0715, 0.4325, 0.3647])
plot_abc(ax4, fhc_iga, fhc_igb, fhc_igc)
style_axes(ax4, 'FHC control currents in abc frame', r'I$_{\mathrm{g}}$(A)', abc_yticks, (-5, 5))
add_legend(ax4, 0.45)

fig.savefig('out.png', dpi=100, facecolor='white')
